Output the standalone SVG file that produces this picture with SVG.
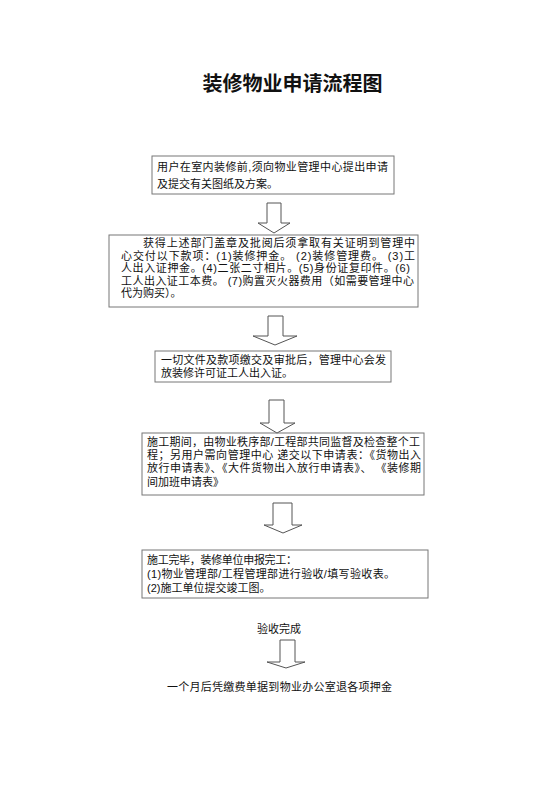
<svg xmlns="http://www.w3.org/2000/svg" width="560" height="792" viewBox="0 0 560 792">
<style>
text{font-family:"Liberation Sans","Noto Sans CJK SC",sans-serif;fill:#111;}
.t{font-size:11px;}
.s{font-size:11px;}
.title{font-size:20px;font-weight:bold;}
.box{fill:#fff;stroke:#777;stroke-width:1;}
.arr{fill:#fff;stroke:#555;stroke-width:1;}
</style>
<rect width="560" height="792" fill="#fff"/>
<text class="title" x="292.5" y="91" text-anchor="middle">装修物业申请流程图</text>
<g id="n1">
<rect class="box" x="152" y="156" width="242" height="38"/>
<text class="s" x="157" y="171" textLength="231" lengthAdjust="spacing">用户在室内装修前,须向物业管理中心提出申请</text>
<text class="s" x="157" y="187.5">及提交有关图纸及方案。</text>
</g>
<g id="n2">
<rect class="box" x="109" y="235" width="309" height="72"/>
<text class="t" x="143" y="247" textLength="272" lengthAdjust="spacing">获得上述部门盖章及批阅后须拿取有关证明到管理中</text>
<text class="t" x="121" y="259.5" textLength="294" lengthAdjust="spacing">心交付以下款项：(1)装修押金。 (2)装修管理费。 (3)工</text>
<text class="t" x="121" y="272" textLength="289" lengthAdjust="spacing">人出入证押金。(4)二张二寸相片。(5)身份证复印件。(6)</text>
<text class="t" x="121" y="284.5" textLength="293" lengthAdjust="spacing">工人出入证工本费。 (7)购置灭火器费用（如需要管理中心</text>
<text class="t" x="121" y="297">代为购买）。</text>
</g>
<g id="n3">
<rect class="box" x="155" y="351" width="236" height="31"/>
<text class="s" x="161" y="363.5" textLength="225" lengthAdjust="spacing">一切文件及款项缴交及审批后，管理中心会发</text>
<text class="s" x="161" y="376.5">放装修许可证工人出入证。</text>
</g>
<g id="n4">
<rect class="box" x="142" y="433" width="282" height="62"/>
<text class="s" x="147" y="446" textLength="273" lengthAdjust="spacing">施工期间，由物业秩序部/工程部共同监督及检查整个工</text>
<text class="s" x="147" y="459" textLength="274" lengthAdjust="spacing">程；另用户需向管理中心 递交以下申请表：《货物出入</text>
<text class="s" x="147" y="472" textLength="274" lengthAdjust="spacing">放行申请表》、《大件货物出入放行申请表》、 《装修期</text>
<text class="s" x="147" y="486">间加班申请表》</text>
</g>
<g id="n5">
<rect class="box" x="142" y="550" width="286" height="48"/>
<text class="s" x="147" y="563.5" textLength="150" lengthAdjust="spacing">施工完毕，装修单位申报完工：</text>
<text class="s" x="147" y="577.5" textLength="248" lengthAdjust="spacing">(1)物业管理部/工程管理部进行验收/填写验收表。</text>
<text class="s" x="147" y="591.5">(2)施工单位提交竣工图。</text>
</g>
<g id="n6">
<text class="s" x="279" y="632.5" text-anchor="middle">验收完成</text>
</g>
<g id="n7">
<text class="s" x="279.5" y="691" text-anchor="middle" textLength="225" lengthAdjust="spacing">一个月后凭缴费单据到物业办公室退各项押金</text>
</g>
<g id="connectors">
<polygon class="arr" points="267,203 281,203 281,223 290,223 274,233 258,223 267,223"/>
<polygon class="arr" points="268,316 283,316 283,336 297,336 275,345 253,336 268,336"/>
<polygon class="arr" points="269,400 284,400 284,423 295,423 277,433 260,423 269,423"/>
<polygon class="arr" points="273,503 292,503 292,525 302,525 283,533 264,525 273,525"/>
<polygon class="arr" points="280,640 295,640 295,662 305,662 286,668 267,662 280,662"/>
</g>
</svg>
